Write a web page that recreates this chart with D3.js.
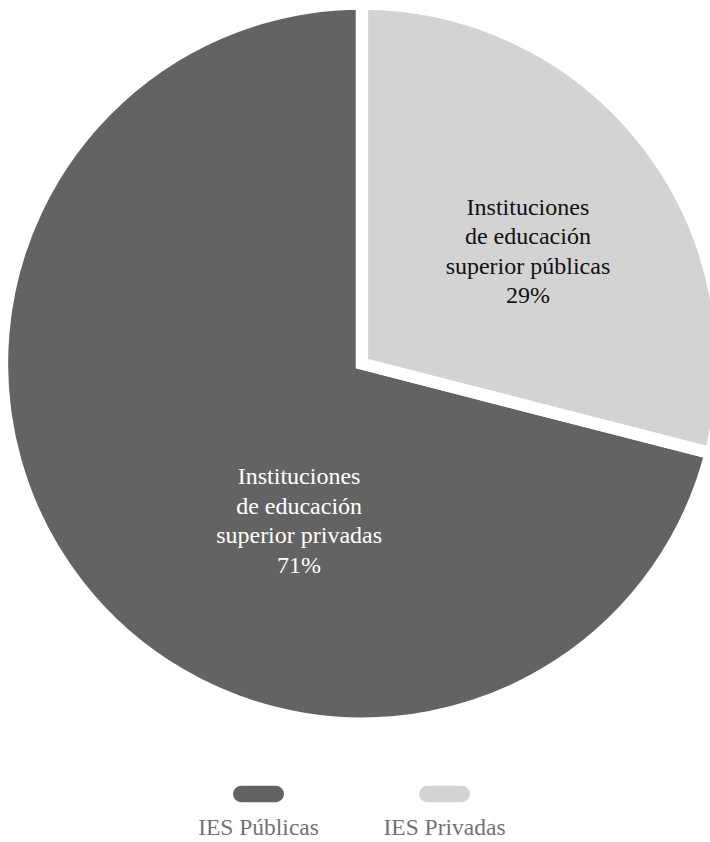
<!DOCTYPE html>
<html>
<head>
<meta charset="utf-8">
<script src="https://cdn.jsdelivr.net/npm/d3@7"></script>
<style>
  body { margin: 0; background: #fff; }
  svg { display: block; }
  svg text { font-family: "Liberation Serif", "Times New Roman", Times, "DejaVu Serif", serif; }
</style>
</head>
<body>
<div id="chart"></div>
<script>
// slices, in drawing order (dark first, then light)
var legendNames = ["IES Públicas", "IES Privadas"];
var shares = [71, 29];
var sliceLines = [
    ["Instituciones", "de educación", "superior privadas"],
    ["Instituciones", "de educación", "superior públicas"]
];
var colors = ["#636363", "#d3d3d3"];
var labelColors = ["#ffffff", "#111111"];

function draw_pie() {
    var width = 710,
        height = 842,
        cx = 362,
        cy = 363.6,
        radius = 360;

    var svg = d3.select("#chart").append("svg")
        .attr("width", width)
        .attr("height", height);

    var g = svg.append("g")
        .attr("transform", "translate(" + cx + "," + cy + ")");

    var data = shares.map(function (v, i) {
        return {name: legendNames[i], value: v, lines: sliceLines[i], i: i};
    });

    var start = 2 * Math.PI * shares[1] / d3.sum(shares);
    var pie = d3.pie()
        .sort(null)
        .value(function (d) { return d.value; })
        .startAngle(start)
        .endAngle(start + 2 * Math.PI);

    var arc = d3.arc()
        .innerRadius(0)
        .outerRadius(radius);

    var arcs = pie(data);

    g.selectAll(".slice")
        .data(arcs)
        .enter().append("path")
        .attr("class", "slice")
        .attr("d", arc)
        .attr("fill", function (d) { return colors[d.data.i]; })
        .attr("stroke", "#fff")
        .attr("stroke-width", 12.3)
        .attr("stroke-linejoin", "miter");

    // label placement: angle (deg, clockwise from top) and distance from centre
    var labelSpot = [
        {angle: 200.9, dist: 176.3},
        {angle: 57.8, dist: 196.1}
    ];
    var lineH = 29.5;

    var labels = g.selectAll(".lbl")
        .data(arcs)
        .enter().append("text")
        .attr("class", "lbl")
        .attr("text-anchor", "middle")
        .style("font-size", "24px")
        .attr("fill", function (d) { return labelColors[d.data.i]; })
        .attr("transform", function (d) {
            var s = labelSpot[d.data.i];
            var a = s.angle * Math.PI / 180;
            return "translate(" + (Math.sin(a) * s.dist) + "," + (-Math.cos(a) * s.dist) + ")";
        });

    labels.each(function (d) {
        var t = d3.select(this);
        var lines = d.data.lines.concat([d.data.value + "%"]);
        lines.forEach(function (l, k) {
            t.append("tspan")
                .attr("x", 0)
                .attr("y", (k - (lines.length - 1) / 2) * lineH)
                .text(l);
        });
    });

    // legend
    var lx = d3.scalePoint()
        .domain(legendNames)
        .range([258.5, 444.5]);

    var leg = svg.selectAll(".leg")
        .data(legendNames)
        .enter().append("g")
        .attr("class", "leg")
        .attr("transform", function (d) { return "translate(" + lx(d) + ",0)"; });

    leg.append("rect")
        .attr("x", -25.5)
        .attr("y", 785.7)
        .attr("width", 51)
        .attr("height", 16.6)
        .attr("rx", 8.3)
        .attr("fill", function (d, i) { return colors[i]; });

    leg.append("text")
        .attr("x", 0)
        .attr("y", 834.5)
        .attr("text-anchor", "middle")
        .style("font-size", "23.5px")
        .attr("fill", "#737373")
        .text(function (d) { return d; });
}

draw_pie();
</script>
</body>
</html>
